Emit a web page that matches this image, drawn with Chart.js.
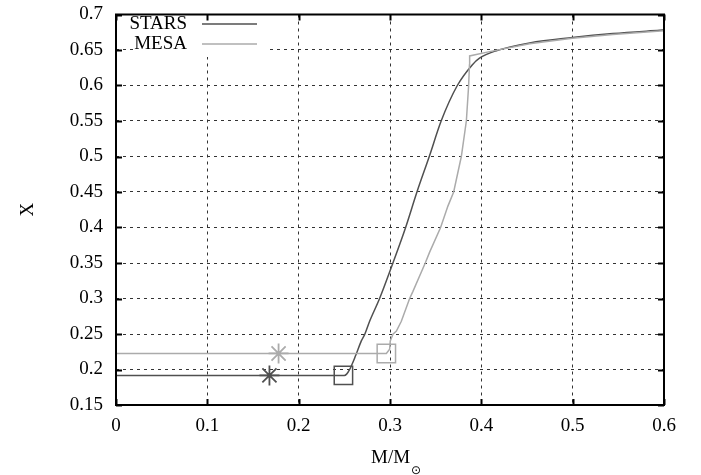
<!DOCTYPE html>
<html>
<head>
<meta charset="utf-8">
<script src="https://cdn.jsdelivr.net/npm/chart.js"></script>
<style>
  html, body { margin: 0; padding: 0; background: #fff; }
  #wrap { width: 701px; height: 475px; }
</style>
</head>
<body>
<div id="wrap"><canvas id="c" width="701" height="475"></canvas></div>
<script>
// ---- data ----
const xTicks = [0, 0.1, 0.2, 0.3, 0.4, 0.5, 0.6];
const xTickLabels = ['0', '0.1', '0.2', '0.3', '0.4', '0.5', '0.6'];
const yTicks = [0.15, 0.2, 0.25, 0.3, 0.35, 0.4, 0.45, 0.5, 0.55, 0.6, 0.65, 0.7];
const yTickLabels = ['0.15', '0.2', '0.25', '0.3', '0.35', '0.4', '0.45', '0.5', '0.55', '0.6', '0.65', '0.7'];

const seriesNames = ['STARS', 'MESA'];
const starsX = [0, 0.1, 0.2, 0.25, 0.2525, 0.2557, 0.2625, 0.2686, 0.2725, 0.2777, 0.2886, 0.3032, 0.3171, 0.3295, 0.3430, 0.3560, 0.3737, 0.390, 0.398, 0.4164, 0.4529, 0.4997, 0.544, 0.5953, 0.6];
const starsY = [0.1917, 0.1917, 0.1917, 0.1917, 0.1935, 0.1997, 0.2200, 0.2403, 0.2500, 0.2680, 0.3000, 0.3500, 0.4000, 0.4500, 0.5000, 0.5500, 0.6000, 0.629, 0.6385, 0.649, 0.660, 0.6676, 0.6732, 0.6778, 0.6782];

const mesaX = [0, 0.1, 0.2, 0.296, 0.2996, 0.3003, 0.3032, 0.307, 0.3124, 0.3215, 0.325, 0.3386, 0.3434, 0.3554, 0.3634, 0.3697, 0.3781, 0.3836, 0.3861, 0.387, 0.3872, 0.409, 0.4529, 0.4997, 0.544, 0.6];
const mesaY = [0.2226, 0.2226, 0.2226, 0.2226, 0.2287, 0.2403, 0.2496, 0.254, 0.268, 0.300, 0.3097, 0.350, 0.3653, 0.400, 0.4301, 0.450, 0.500, 0.550, 0.600, 0.629, 0.6417, 0.6477, 0.6588, 0.6664, 0.672, 0.677];

const squareX = [0.249, 0.296];
const squareY = [0.1917, 0.2226];
const starMarkX = [0.168, 0.178];
const starMarkY = [0.1917, 0.2226];

const darkCol = '#505050';
const lightCol = '#ababab';
const serif = "'Liberation Serif', 'Times New Roman', serif";

const zip = (xs, ys) => xs.map((x, i) => ({x: x, y: ys[i]}));

const framePlugin = {
  id: 'frame',
  afterDatasetsDraw(chart) {
    const ctx = chart.ctx;
    const a = chart.chartArea;
    const xs = chart.scales.x, ys = chart.scales.y;
    ctx.save();
    // legend (opaque key box)
    ctx.fillStyle = '#fff';
    ctx.fillRect(133, 11, 134, 46);
    ctx.font = '19px ' + serif;
    ctx.fillStyle = '#000';
    ctx.textAlign = 'right';
    ctx.textBaseline = 'middle';
    ctx.fillText(seriesNames[0], 187, 24);
    ctx.fillText(seriesNames[1], 187, 44);
    ctx.lineWidth = 1.5;
    ctx.strokeStyle = darkCol;
    ctx.beginPath(); ctx.moveTo(202, 24); ctx.lineTo(257, 24); ctx.stroke();
    ctx.strokeStyle = lightCol;
    ctx.beginPath(); ctx.moveTo(202, 44); ctx.lineTo(257, 44); ctx.stroke();
    // frame
    ctx.strokeStyle = '#000';
    ctx.lineWidth = 2;
    ctx.strokeRect(a.left, a.top, a.right - a.left, a.bottom - a.top);
    // inward ticks, mirrored
    const tl = 6;
    ctx.beginPath();
    xTicks.forEach(v => {
      const p = Math.round(xs.getPixelForValue(v)) + 0.5;
      ctx.moveTo(p, a.bottom); ctx.lineTo(p, a.bottom - tl);
      ctx.moveTo(p, a.top); ctx.lineTo(p, a.top + tl);
    });
    yTicks.forEach(v => {
      const p = Math.round(ys.getPixelForValue(v)) + 0.5;
      ctx.moveTo(a.left, p); ctx.lineTo(a.left + tl, p);
      ctx.moveTo(a.right, p); ctx.lineTo(a.right - tl, p);
    });
    ctx.stroke();
    // x axis title with subscript sun symbol
    ctx.fillStyle = '#000';
    ctx.textAlign = 'left';
    ctx.textBaseline = 'alphabetic';
    ctx.font = '19px ' + serif;
    ctx.fillText('M/M', 371, 463);
    ctx.font = "12px 'DejaVu Sans', sans-serif";
    ctx.fillText('\u2299', 411, 474);
    ctx.restore();
  }
};

new Chart(document.getElementById('c'), {
  type: 'line',
  data: {
    datasets: [
      { label: seriesNames[1], data: zip(mesaX, mesaY), borderColor: lightCol, borderWidth: 1.5, pointRadius: 0, tension: 0, fill: false },
      { label: seriesNames[0], data: zip(starsX, starsY), borderColor: darkCol, borderWidth: 1.5, pointRadius: 0, cubicInterpolationMode: 'monotone', fill: false },
      { label: 'sq', data: zip(squareX, squareY), showLine: false, pointStyle: 'rect', pointRadius: 13,
        pointBorderWidth: 1.5, pointBackgroundColor: 'rgba(0,0,0,0)', pointBorderColor: [darkCol, lightCol] },
      { label: 'st', data: zip(starMarkX, starMarkY), showLine: false, pointStyle: 'star', pointRadius: 10,
        pointBorderWidth: 1.8, pointBackgroundColor: 'rgba(0,0,0,0)', pointBorderColor: [darkCol, lightCol] }
    ]
  },
  options: {
    responsive: false,
    animation: false,
    devicePixelRatio: 1,
    layout: { padding: { left: 0, right: 37, top: 9, bottom: 0 } },
    plugins: { legend: { display: false }, tooltip: { enabled: false } },
    scales: {
      x: {
        type: 'linear', min: 0, max: 0.6,
        afterBuildTicks: s => { s.ticks = xTicks.map(v => ({value: v})); },
        afterFit: s => { s.height = 70; s.paddingLeft = 0; s.paddingRight = 0; },
        ticks: { callback: (v, i) => xTickLabels[i], font: { family: serif, size: 19 }, color: '#000', padding: 10, maxRotation: 0, autoSkip: false },
        grid: { color: '#333', lineWidth: 1, drawTicks: false },
        border: { display: false, dash: [3, 4] },
        title: { display: false }
      },
      y: {
        type: 'linear', min: 0.15, max: 0.7,
        afterBuildTicks: s => { s.ticks = yTicks.map(v => ({value: v})); },
        afterFit: s => { s.width = 116; s.paddingTop = 0; s.paddingBottom = 0; },
        ticks: { callback: (v, i) => yTickLabels[i], font: { family: serif, size: 19 }, color: '#000', padding: 13, autoSkip: false },
        grid: { color: '#333', lineWidth: 1, drawTicks: false },
        border: { display: false, dash: [3, 4] },
        title: { display: true, text: 'X', font: { family: serif, size: 19 }, color: '#000', padding: { top: 17, bottom: 0 } }
      }
    }
  },
  plugins: [framePlugin]
});
</script>
</body>
</html>
